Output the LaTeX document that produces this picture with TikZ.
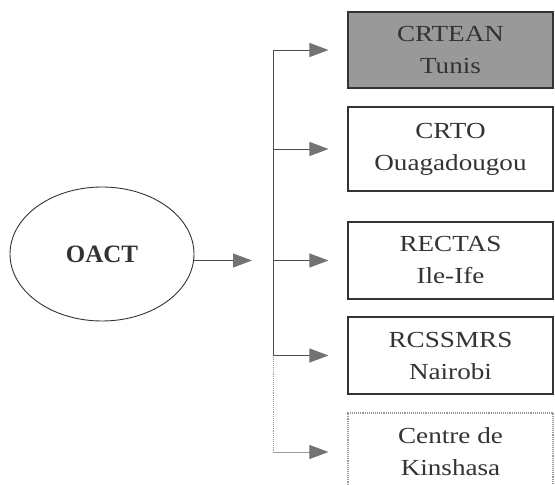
\documentclass[tikz,border=0pt]{standalone}
\usepackage{fontspec}
\setmainfont{Liberation Serif}
\newfontfamily\largefont[FakeStretch=1.18]{Liberation Serif}
\usetikzlibrary{arrows.meta,positioning,shapes.geometric}

\tikzset{
	centre/.style={draw=black!80, line width=1.1pt, minimum width=205pt, inner sep=0pt,
		align=center, font=\largefont\fontsize{23}{32}\selectfont, text=black!80},
	flech/.style={draw=black!70, line width=0.9pt, -{Triangle[length=19pt,width=14pt,color=black!55,fill=black!55]}},
}

\begin{document}
\begin{tikzpicture}[x=1pt, y=1pt]
	%%%%% START %%%%%
	\useasboundingbox (0, 0) rectangle (555, 485);
	
	\node[ellipse, draw=black!80, line width=0.9pt, minimum width=184pt, minimum height=134pt,
		inner sep=0pt, font=\bfseries\fontsize{25}{30}\selectfont, text=black!80] (oact) at (102, 231) {OACT};
	
	\node[centre, fill=black!40, minimum height=76pt] (crtean) at (450.5, 435) {CRTEAN\\Tunis};
	\node[centre, minimum height=84pt] (crto) at (450.5, 336) {CRTO\\Ouagadougou};
	\node[centre, minimum height=77pt] (rectas) at (450.5, 224.5) {RECTAS\\Ile-Ife};
	\node[centre, minimum height=77pt] (rcssmrs) at (450.5, 129.5) {RCSSMRS\\Nairobi};
	\node[centre, draw=black!40, densely dotted, minimum height=78pt] (kinshasa) at (450.5, 33) {Centre de\\Kinshasa};
	
	\coordinate (j1) at (273, 435);
	\coordinate (j2) at (j1 |- crto);
	\coordinate (j3) at (j1 |- rectas);
	\coordinate (j4) at (j1 |- rcssmrs);
	\coordinate (j5) at (j1 |- kinshasa);
	
	\draw[black!70, line width=0.9pt] (j1) -- (j4);
	\draw[black!40, line width=0.9pt, densely dotted] (j4) -- (j5);
	
	\draw[flech, shorten >=21pt] (oact.east |- rectas) -- (j3);
	
	\draw[flech, shorten >=19pt] (j1) -- (crtean.west);
	\draw[flech, shorten >=19pt] (j2) -- (crto.west);
	\draw[flech, shorten >=19pt] (j3) -- (rectas.west);
	\draw[flech, shorten >=19pt] (j4) -- (rcssmrs.west);
	\draw[flech, draw=black!40, shorten >=19pt] (j5) -- (kinshasa.west);
	
	%%%%% END %%%%%
\end{tikzpicture}
\end{document}
